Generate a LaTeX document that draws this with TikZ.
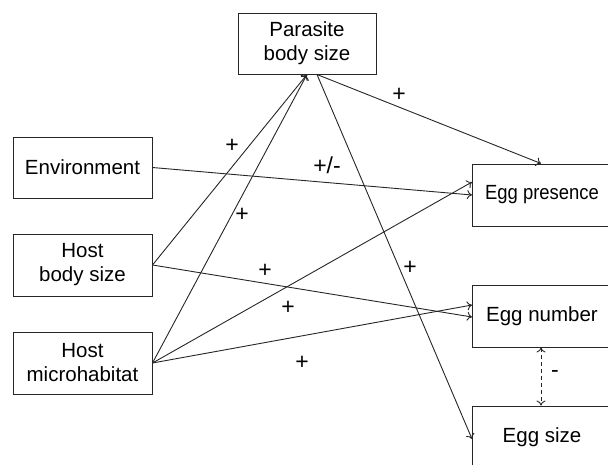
\documentclass[tikz,border=0pt]{standalone}
\usepackage{fontspec}
\setmainfont{Liberation Sans}
\usetikzlibrary{arrows.meta}
\begin{document}
\begin{tikzpicture}[x=1pt,y=-1pt,
  box/.style={draw=black!85,line width=1pt,rectangle,minimum width=139pt,minimum height=61pt,inner sep=0pt,align=center,font=\fontsize{20.5}{24}\selectfont},
  conn/.style={-{To[length=5pt,width=9pt]},line width=0.9pt,draw=black!85},
  lbl/.style={font=\fontsize{23}{26}\selectfont,inner sep=0pt}]
\useasboundingbox (0,0) rectangle (608,464);
\node[box,minimum width=138pt] (par) at (307,43.5) {Parasite\\body size};
\node[box] (env) at (82.5,167.5) {Environment};
\node[box,minimum height=62pt] (hbs) at (82.5,265) {Host\\body size};
\node[box,minimum height=62pt] (hmh) at (82.5,363) {Host\\microhabitat};
\node[box,minimum height=62pt] (egp) at (542,195) {\scalebox{0.9}[1]{Egg presence}};
\node[box,minimum height=62pt] (egn) at (542,316) {Egg number};
\node[box,minimum height=62pt] (egs) at (542,437) {Egg size};
% connectors
\draw[conn] ([xshift=10pt]par.south) -- ([xshift=-1pt]egp.north);
\draw[conn] ([xshift=10pt]par.south) -- ([yshift=-2pt]egs.west);
\draw[conn] (env.east) -- (egp.west);
\draw[conn] (hbs.east) -- (par.south);
\draw[conn] (hmh.east) -- (par.south);
\draw[conn] (hbs.east) -- ([yshift=-1pt]egn.west);
\draw[conn] (hmh.east) -- ([yshift=13pt]egp.west);
\draw[conn] (hmh.east) -- ([yshift=11pt]egn.west);
\draw[{To[length=5pt,width=9pt]}-{To[length=5pt,width=9pt]},line width=0.9pt,draw=black!85,dash pattern=on 4pt off 3pt] ([xshift=-1pt]egn.south) -- ([xshift=-1pt]egs.north);
% labels
\node[lbl] (l1) at (399,95) {+};
\node[lbl] (l2) at (232,146) {+};
\node[lbl] (l3) at (327,165) {+/-};
\node[lbl] (l4) at (242,215) {+};
\node[lbl] (l5) at (265,271) {+};
\node[lbl] (l6) at (410,268) {+};
\node[lbl] (l7) at (288,308) {+};
\node[lbl] (l8) at (302,363) {+};
\node[lbl] (l9) at (555,374) {-};
\end{tikzpicture}
\end{document}
